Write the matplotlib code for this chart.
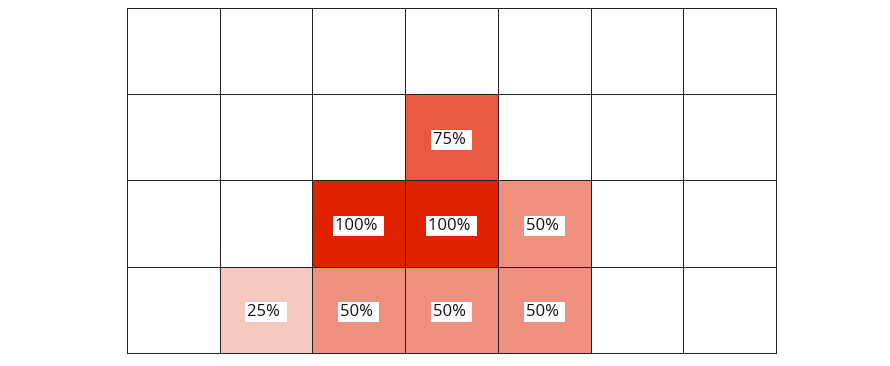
import numpy as np
import matplotlib
matplotlib.use("Agg")
import matplotlib.pyplot as plt
from matplotlib.colors import LinearSegmentedColormap

plt.rcParams['font.family'] = ['Open Sans', 'DejaVu Sans']

n_cols = 7
n_rows = 4

# rows listed from top to bottom, values in percent
row0 = [0, 0, 0, 0, 0, 0, 0]
row1 = [0, 0, 0, 75, 0, 0, 0]
row2 = [0, 0, 100, 100, 50, 0, 0]
row3 = [0, 25, 50, 50, 50, 0, 0]

values = np.array([row0, row1, row2, row3], dtype=float)

cmap = LinearSegmentedColormap.from_list("red", ["#ffffff", "#e02200"])

fig = plt.figure(figsize=(8.9, 3.66), dpi=100)
ax = fig.add_axes([127 / 890, 1 - 353 / 366, (776 - 127) / 890, (353 - 8) / 366])

mesh = ax.pcolormesh(values, cmap=cmap, vmin=0, vmax=100,
                     edgecolors="#222222", linewidth=0.6)
mesh.set_clip_on(False)
ax.set_xlim(0, n_cols)
ax.set_ylim(n_rows, 0)

for r in range(n_rows):
    for c in range(n_cols):
        v = values[r, c]
        if v > 0:
            ax.text(c + 0.5, r + 0.53, f"{v:.0f}% ", ha="center", va="center",
                    fontsize=12, color="#111111",
                    bbox=dict(facecolor="white", edgecolor="none",
                              boxstyle="square,pad=0.12"))

ax.set_xticks([])
ax.set_yticks([])
for s in ax.spines.values():
    s.set_visible(False)

fig.savefig("out.png", dpi=100)
